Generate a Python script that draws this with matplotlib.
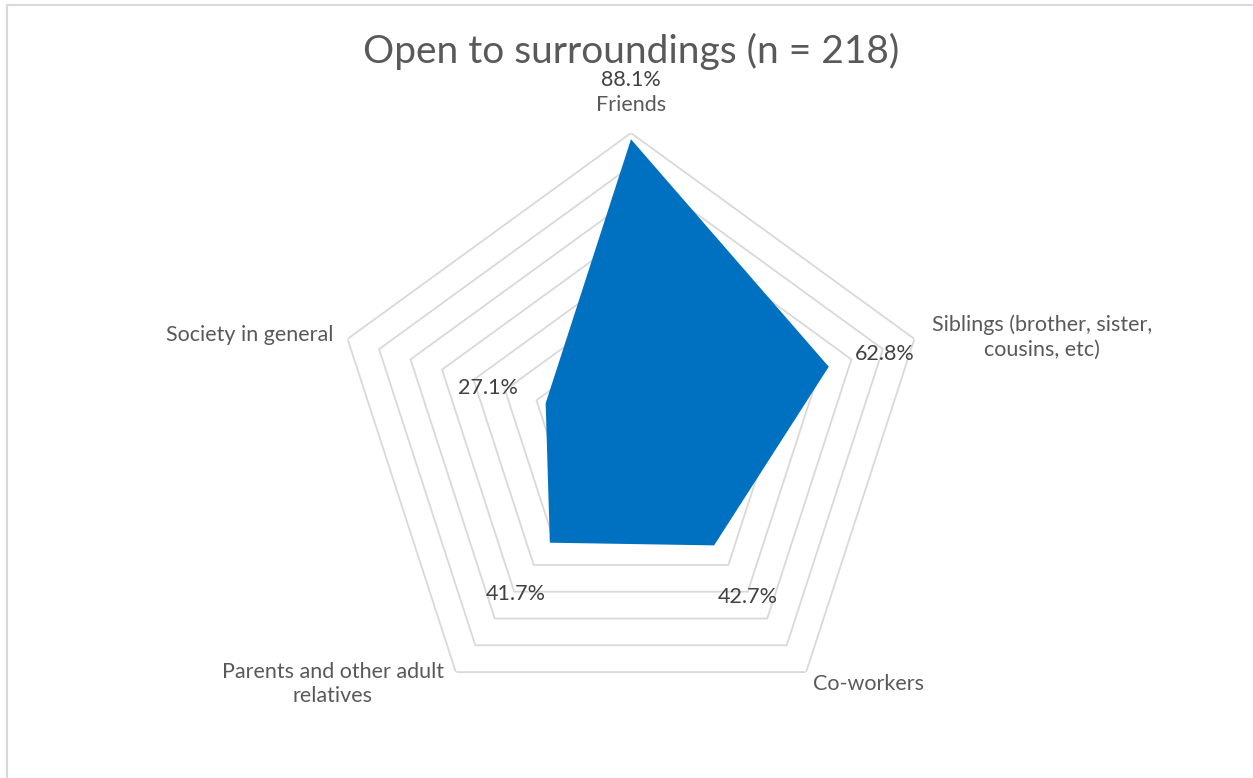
import numpy as np
import matplotlib
matplotlib.use("Agg")
import matplotlib.pyplot as plt
from matplotlib.lines import Line2D

# ---- data ----
categories = ["Friends", "Siblings (brother, sister,\ncousins, etc)", "Co-workers",
              "Parents and other adult\nrelatives", "Society in general"]
values = [88.1, 62.8, 42.7, 41.7, 27.1]
ring_levels = [10, 20, 30, 40, 50, 60, 70, 80, 90]
title = "Open to surroundings (n = 218)"

W, H = 1253, 778
DPI = 100
plt.rcParams['font.family'] = ['Lato', 'DejaVu Sans']

fig = plt.figure(figsize=(W / DPI, H / DPI), dpi=DPI)
fig.patch.set_facecolor("white")

# chart-area border (top and left edges visible)
fig.add_artist(Line2D([7 / W, 7 / W], [0, 1 - 5 / H], transform=fig.transFigure,
                      color="#d9d9d9", lw=1.5))
fig.add_artist(Line2D([7 / W, 1], [1 - 5 / H, 1 - 5 / H], transform=fig.transFigure,
                      color="#d9d9d9", lw=1.5))

cx, cy, R = 631, 431, 298
ax = fig.add_axes([(cx - R) / W, (H - cy - R) / H, 2 * R / W, 2 * R / H], projection="polar")
ax.set_theta_offset(np.pi / 2)
ax.set_theta_direction(-1)
ax.set_ylim(0, 90)
ax.set_axis_off()

n = len(categories)
angles = np.arange(n) * 2 * np.pi / n
closed = np.concatenate([angles, angles[:1]])

for lvl in ring_levels:
    ax.plot(closed, [lvl] * (n + 1), color="#d9d9d9", lw=1.3, zorder=1)

vals = np.array(values)
ax.fill(closed, np.concatenate([vals, vals[:1]]), color="#0070c0", lw=0, zorder=2)

lab_col = "#404040"
cat_col = "#595959"
# data label offsets (pixels) relative to data point
dl_offsets = [(0, 59), (56, 13), (34, -52), (-34, -51), (-58, 15)]
for a, v, off in zip(angles, values, dl_offsets):
    ax.annotate(f"{v:.1f}%", xy=(a, v), xytext=off, textcoords="offset pixels",
                ha="center", va="center", fontsize=15.5, color=lab_col, zorder=3)

# category labels placed outside the outer ring
cat_offsets = [(0, 28), (128, 2), (62, -12), (-123, -12), (-98, 4)]
for a, c, off in zip(angles, categories, cat_offsets):
    ax.annotate(c, xy=(a, ring_levels[-1]), xytext=off, textcoords="offset pixels",
                ha="center", va="center", fontsize=15.5, color=cat_col,
                linespacing=1.3, annotation_clip=False, zorder=3)

fig.text(cx / W, 1 - 51 / H, title, ha="center", va="center", fontsize=28, color=cat_col)

fig.savefig("out.png", dpi=DPI, facecolor="white")
